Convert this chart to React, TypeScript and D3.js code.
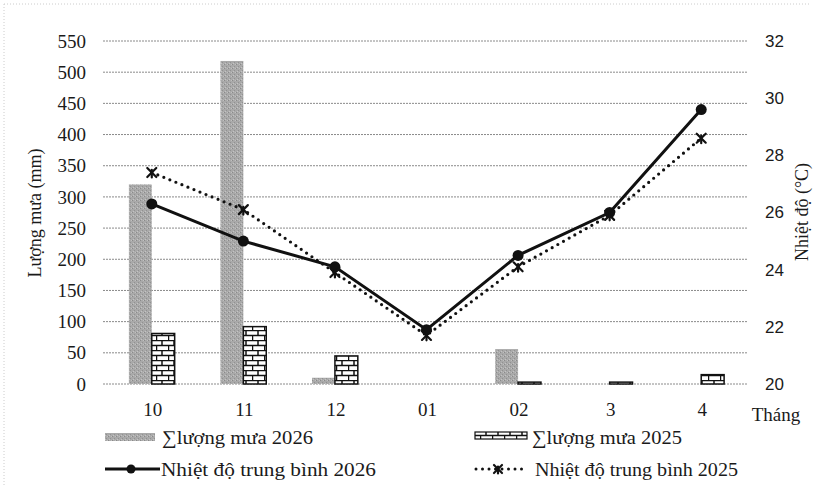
import React from "react";
import * as d3 from "d3";

const months = ["10", "11", "12", "01", "02", "3", "4"];
const rain2026 = [320, 518, 10, 0, 56, 0, 0];
const rain2025 = [81, 92, 45, 0, 3, 3, 15];
const temp2026 = [26.3, 25.0, 24.1, 21.9, 24.5, 26.0, 29.6];
const temp2025 = [27.4, 26.1, 23.9, 21.7, 24.1, 25.9, 28.6];
const rainTicks = [0, 50, 100, 150, 200, 250, 300, 350, 400, 450, 500, 550];
const tempTicks = [20, 22, 24, 26, 28, 30, 32];

const W = 813;
const H = 489;
const SERIF = "Liberation Serif, DejaVu Serif, serif";
const SANS = "Liberation Sans, Open Sans, sans-serif";

export default function App() {
  const x = d3.scaleBand<string>().domain(months).range([106, 747]).padding(0);
  const yL = d3.scaleLinear().domain([0, 550]).range([384, 41]);
  const yR = d3.scaleLinear().domain([20, 32]).range([384, 41]);
  const bw = x.bandwidth() * 0.25;
  const cx = (m: string) => (x(m) as number) + x.bandwidth() / 2;

  const line = d3
    .line<number>()
    .x((_, i) => cx(months[i]))
    .y((d) => yR(d));

  const starMarker = (px: number, py: number, s: number, key: string) => (
    <g key={key} stroke="#111" strokeWidth={2.2} strokeLinecap="round">
      <line x1={px - s} y1={py - s} x2={px + s} y2={py + s} />
      <line x1={px - s} y1={py + s} x2={px + s} y2={py - s} />
      <line x1={px} y1={py - s * 0.6} x2={px} y2={py + s * 1.1} />
    </g>
  );

  const serif = { fontFamily: SERIF, fill: "#1a1a1a" } as const;
  const sans = { fontFamily: SANS, fill: "#1a1a1a" } as const;

  return (
    <svg
      width={W}
      height={H}
      viewBox={`0 0 ${W} ${H}`}
      style={{ position: "absolute", left: 0, top: 0, background: "#fff", fontFamily: SERIF }}
    >
      <defs>
        <pattern id="grain" width="4" height="4" patternUnits="userSpaceOnUse">
          <rect width="4" height="4" fill="#a9a9a9" />
          <rect x="0" y="0" width="1" height="1" fill="#8a8a8a" />
          <rect x="2" y="2" width="1" height="1" fill="#919191" />
          <rect x="3" y="0" width="1" height="1" fill="#c0c0c0" />
          <rect x="1" y="3" width="1" height="1" fill="#c4c4c4" />
        </pattern>
        <pattern id="brick" width="12" height="10" patternUnits="userSpaceOnUse">
          <rect width="12" height="10" fill="#fff" />
          <line x1="0" y1="0.5" x2="12" y2="0.5" stroke="#111" strokeWidth="1.5" />
          <line x1="0" y1="5.5" x2="12" y2="5.5" stroke="#111" strokeWidth="1.5" />
          <line x1="6" y1="0.5" x2="6" y2="5.5" stroke="#111" strokeWidth="1.5" />
          <line x1="0.5" y1="5.5" x2="0.5" y2="10" stroke="#111" strokeWidth="1.5" />
        </pattern>
      </defs>

      <rect x={0} y={0} width={W} height={H} fill="#fff" />
      <line x1={4} y1={4} x2={W - 4} y2={4} stroke="#ccc" strokeDasharray="1,2" />
      <line x1={4} y1={4} x2={4} y2={H - 4} stroke="#ccc" strokeDasharray="1,2" />

      {rainTicks.map((t) => (
        <line
          key={"g" + t}
          x1={103}
          x2={748}
          y1={yL(t)}
          y2={yL(t)}
          stroke="#8a8a8a"
          strokeWidth={1}
          strokeDasharray="2,1"
        />
      ))}

      {rainTicks.map((t) => (
        <text key={"l" + t} x={86} y={yL(t)} dy="0.35em" textAnchor="end" fontSize={19} style={serif}>
          {t}
        </text>
      ))}
      {tempTicks.map((t) => (
        <text key={"r" + t} x={765} y={yR(t)} dy="0.35em" textAnchor="start" fontSize={17} style={sans}>
          {t}
        </text>
      ))}

      <text transform={`translate(41,213) rotate(-90)`} textAnchor="middle" fontSize={18} style={serif}>
        Lượng mưa (mm)
      </text>
      <text transform={`translate(808,212) rotate(-90)`} textAnchor="middle" fontSize={18} style={serif}>
        Nhiệt độ (°C)
      </text>

      {months.map((m, i) =>
        rain2026[i] > 0 ? (
          <rect
            key={"b6" + m}
            x={cx(m) - bw}
            y={yL(rain2026[i])}
            width={bw}
            height={yL(0) - yL(rain2026[i])}
            fill="url(#grain)"
          />
        ) : null
      )}
      {months.map((m, i) =>
        rain2025[i] > 0 ? (
          <rect
            key={"b5" + m}
            x={cx(m)}
            y={yL(rain2025[i])}
            width={bw}
            height={yL(0) - yL(rain2025[i])}
            fill="url(#brick)"
            stroke="#111"
            strokeWidth={1.5}
          />
        ) : null
      )}

      <path
        d={line(temp2025) || ""}
        fill="none"
        stroke="#111"
        strokeWidth={3.2}
        strokeDasharray="0,6.5"
        strokeLinecap="round"
      />
      <path d={line(temp2026) || ""} fill="none" stroke="#111" strokeWidth={3} />
      {temp2026.map((t, i) => (
        <circle key={"c" + i} cx={cx(months[i])} cy={yR(t)} r={5.5} fill="#111" />
      ))}
      {temp2025.map((t, i) => starMarker(cx(months[i]), yR(t), 4.5, "s" + i))}

      {months.map((m) => (
        <text key={"x" + m} x={cx(m) + 1} y={409} dy="0.35em" textAnchor="middle" fontSize={19} style={serif}>
          {m}
        </text>
      ))}
      <text x={776} y={414} dy="0.35em" textAnchor="middle" fontSize={19} style={serif}>
        Tháng
      </text>

      <rect x={105} y={433} width={50} height={8} fill="url(#grain)" />
      <text x={162} y={437} dy="0.35em" fontSize={19} textLength={151} lengthAdjust="spacingAndGlyphs" style={serif}>
        ∑lượng mưa 2026
      </text>
      <rect x={475} y={432} width={52} height={7} fill="url(#brick)" stroke="#111" strokeWidth={1.2} />
      <text x={532} y={437} dy="0.35em" fontSize={19} textLength={150} lengthAdjust="spacingAndGlyphs" style={serif}>
        ∑lượng mưa 2025
      </text>

      <line x1={105} x2={160} y1={469} y2={469} stroke="#111" strokeWidth={3} />
      <circle cx={131} cy={469} r={4.5} fill="#111" />
      <text x={161} y={469} dy="0.35em" fontSize={19} textLength={215} lengthAdjust="spacingAndGlyphs" style={serif}>
        Nhiệt độ trung bình 2026
      </text>
      <line
        x1={476}
        x2={527}
        y1={469}
        y2={469}
        stroke="#111"
        strokeWidth={3}
        strokeDasharray="0,6.5"
        strokeLinecap="round"
      />
      {starMarker(498, 469, 4, "legstar")}
      <text x={535} y={469} dy="0.35em" fontSize={19} textLength={203} lengthAdjust="spacingAndGlyphs" style={serif}>
        Nhiệt độ trung bình 2025
      </text>
    </svg>
  );
}
